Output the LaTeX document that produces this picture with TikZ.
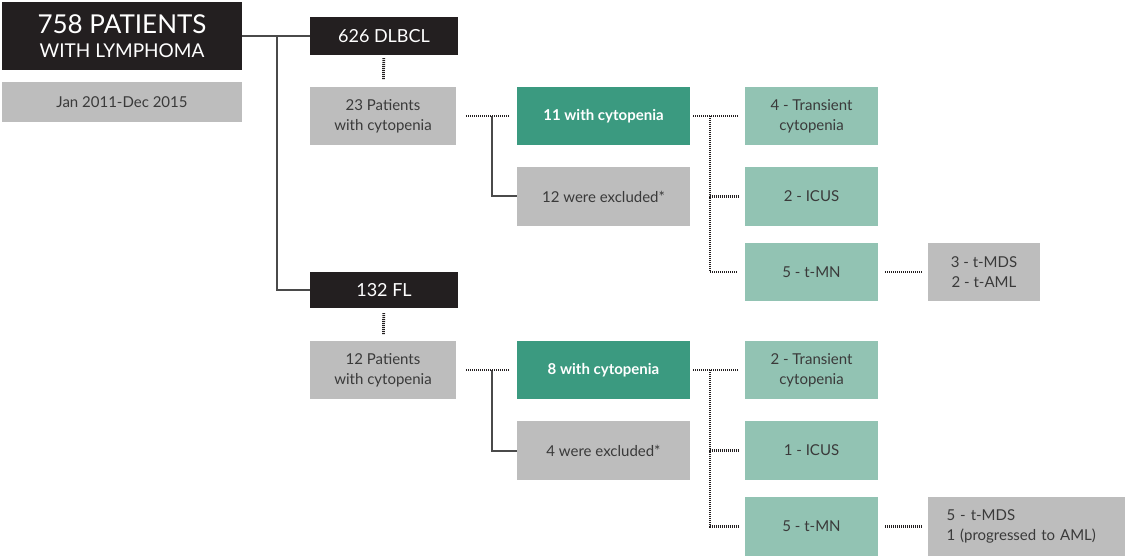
\documentclass[tikz,border=0pt]{standalone}
\usepackage{fontspec}
\setmainfont{Lato}
\usepackage{xcolor}
\usetikzlibrary{positioning}

\definecolor{inkdark}{HTML}{231F20}
\definecolor{boxgray}{HTML}{BDBDBD}
\definecolor{txtgray}{HTML}{3A3A3A}
\definecolor{teal}{HTML}{3B9A80}
\definecolor{tealpale}{HTML}{92C3B3}
\definecolor{linegray}{HTML}{4A4A4A}

\begin{document}
\begin{tikzpicture}[
    x=1pt, y=-1pt,
    box/.style={align=center, inner sep=2pt, font=\fontsize{15}{20}\selectfont},
    head/.style={box, fill=inkdark, text=white},
    info/.style={box, fill=boxgray, text=txtgray},
    hit/.style={box, fill=teal, text=white, font=\fontsize{15}{20}\selectfont\bfseries},
    sub/.style={box, fill=tealpale, text=txtgray},
    link/.style={draw=linegray, line width=2pt},
    dots/.style={draw=inkdark, line width=2.8pt, dash pattern=on 1pt off 1pt}
]
\useasboundingbox (0,0) rectangle (1125,556);

% top level
\node[head, minimum width=240, minimum height=68, font=\fontsize{19}{24}\selectfont] (all) at (122,36)
    {{\fontsize{26}{26}\selectfont 758 PATIENTS}\\WITH LYMPHOMA};
\node[info, minimum width=240, minimum height=40] (span) at (122,102) {Jan 2011-Dec 2015};

% DLBCL branch
\node[head, minimum width=148, minimum height=38, font=\fontsize{18}{20}\selectfont] (dlbcl) at (384,36) {626 DLBCL};
\node[info, minimum width=146, minimum height=58] (dpat) at (383,116) {23 Patients\\with cytopenia};
\node[hit, minimum width=173, minimum height=58] (dcyt) at (603.5,116) {11 with cytopenia};
\node[info, minimum width=173, minimum height=59] (dexc) at (603.5,196.5) {12 were excluded*};
\node[sub, minimum width=133, minimum height=58] (dtra) at (811.5,116) {4 - Transient\\cytopenia};
\node[sub, minimum width=133, minimum height=59] (dicus) at (811.5,196.5) {2 - ICUS};
\node[sub, minimum width=133, minimum height=58] (dmn) at (811.5,272) {5 - t-MN};
\node[info, minimum width=112, minimum height=58] (dres) at (984,272) {3 - t-MDS\\2 - t-AML};

% FL branch
\node[head, minimum width=148, minimum height=36, font=\fontsize{18}{20}\selectfont] (fl) at (384,290) {132 FL};
\node[info, minimum width=146, minimum height=58] (fpat) at (383,370) {12 Patients\\with cytopenia};
\node[hit, minimum width=173, minimum height=58] (fcyt) at (603.5,370) {8 with cytopenia};
\node[info, minimum width=173, minimum height=59] (fexc) at (603.5,450.5) {4 were excluded*};
\node[sub, minimum width=133, minimum height=58] (ftra) at (811.5,370) {2 - Transient\\cytopenia};
\node[sub, minimum width=133, minimum height=59] (ficus) at (811.5,450.5) {1 - ICUS};
\node[sub, minimum width=133, minimum height=59] (fmn) at (811.5,526.5) {5 - t-MN};
\node[info, minimum width=197, minimum height=59, align=left, text width=160] (fres) at (1026.5,526.5)
    {5 - t-MDS\\1 (progressed to AML)};

% forks
\coordinate (split) at (277,36);
\coordinate (dfork) at (492,116);
\coordinate (ffork) at (492,370);
\coordinate (dhub) at (710,116);
\coordinate (fhub) at (710,370);

\draw[link] (all) -- (dlbcl);
\draw[link] (split) |- (fl);
\draw[link] (dfork) |- (dexc);
\draw[link] (ffork) |- (fexc);

\draw[dots, shorten <=3pt, shorten >=7pt] (dlbcl) -- (dpat);
\draw[dots, shorten <=5pt, shorten >=6pt] (fl) -- (fpat);
\draw[dots, shorten <=10pt, shorten >=7pt] (dpat) -- (dcyt);
\draw[dots, shorten <=10pt, shorten >=7pt] (fpat) -- (fcyt);
\draw[dots, shorten <=3pt, shorten >=7pt] (dcyt) -- (dtra);
\draw[dots, shorten <=3pt, shorten >=7pt] (fcyt) -- (ftra);
\draw[dots, shorten >=7pt] (dhub) |- (dicus);
\draw[dots, shorten >=7pt] (dhub) |- (dmn);
\draw[dots, shorten >=7pt] (fhub) |- (ficus);
\draw[dots, shorten >=7pt] (fhub) |- (fmn);
\draw[dots, shorten <=7pt, shorten >=6pt] (dmn) -- (dres);
\draw[dots, shorten <=7pt, shorten >=6pt] (fmn) -- (fres);
\end{tikzpicture}
\end{document}
